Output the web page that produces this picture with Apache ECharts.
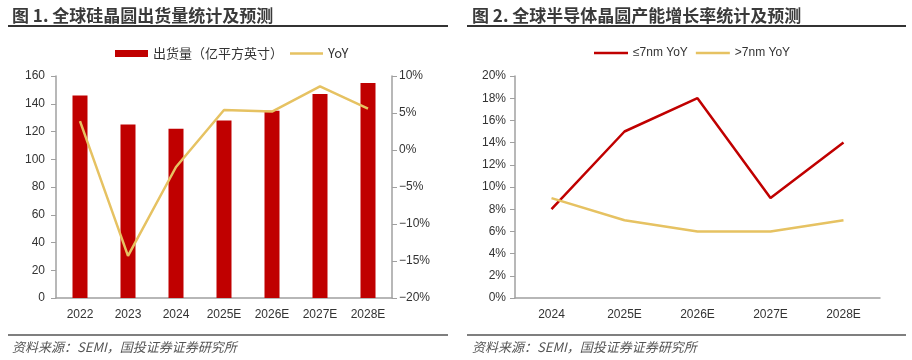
<!DOCTYPE html>
<html><head><meta charset="utf-8">
<script src="https://cdn.jsdelivr.net/npm/echarts@6/dist/echarts.min.js"></script>
<style>html,body{margin:0;padding:0;background:#fff}#c{width:912px;height:360px}</style>
</head><body><div id="c"></div>
<script>
const years1 = ['2022','2023','2024','2025E','2026E','2027E','2028E'];
const shipments = [146, 125, 122, 128, 135, 147, 155];
const shipYoY = [3.9, -14.3, -2.3, 5.4, 5.2, 8.6, 5.6];
const years2 = ['2024','2025E','2026E','2027E','2028E'];
const le7nm = [8, 15, 18, 9, 14];
const gt7nm = [9, 7, 6, 6, 7];
const title1 = '图 1. 全球硅晶圆出货量统计及预测';
const title2 = '图 2. 全球半导体晶圆产能增长率统计及预测';
const source = '资料来源：SEMI，国投证券证券研究所';

const RED = '#C00000', YEL = '#E6C262', AX = '#A0A0A0', TXT = '#333';
const FONT = '"Liberation Sans", Arial, "Noto Sans CJK SC", sans-serif';
const CJK = '"Noto Sans CJK SC", sans-serif';
const lab = {color: TXT, fontSize: 12, fontFamily: FONT};
const LINEICON = 'path://M0,0L34,0L34,2.5L0,2.5Z';

const chart = echarts.init(document.getElementById('c'), null, {renderer: 'canvas'});
chart.setOption({
  backgroundColor: '#fff',
  animation: false,
  title: [
    {text: title1, left: 7, top: 2, textStyle: {fontFamily: CJK, fontSize: 17, fontWeight: 'bold', color: '#3a3a3a'}},
    {text: title2, left: 467, top: 2, textStyle: {fontFamily: CJK, fontSize: 17, fontWeight: 'bold', color: '#3a3a3a'}},
    {text: source, left: 7, top: 336, textStyle: {fontFamily: CJK, fontSize: 13, fontWeight: 'normal', fontStyle: 'italic', color: '#555'}},
    {text: source, left: 467, top: 336, textStyle: {fontFamily: CJK, fontSize: 13, fontWeight: 'normal', fontStyle: 'italic', color: '#555'}}
  ],
  graphic: [
    {type: 'line', shape: {x1: 8, y1: 26, x2: 448, y2: 26}, style: {stroke: '#333', lineWidth: 2}},
    {type: 'line', shape: {x1: 467, y1: 26, x2: 906, y2: 26}, style: {stroke: '#333', lineWidth: 2}},
    {type: 'line', shape: {x1: 8, y1: 335, x2: 448, y2: 335}, style: {stroke: '#555', lineWidth: 1.5}},
    {type: 'line', shape: {x1: 467, y1: 335, x2: 906, y2: 335}, style: {stroke: '#555', lineWidth: 1.5}}
  ],
  legend: [
    {left: 110, top: 42, itemWidth: 33, itemHeight: 7, itemGap: 7,
     textStyle: {fontFamily: CJK, fontSize: 13, color: TXT},
     data: [{name: '出货量（亿平方英寸）', icon: 'rect'}, {name: 'YoY', icon: LINEICON}]},
    {left: 589, top: 42, itemWidth: 34, itemHeight: 7, itemGap: 8,
     textStyle: {fontFamily: FONT, fontSize: 12, color: TXT},
     data: [{name: '≤7nm YoY', icon: LINEICON}, {name: '>7nm YoY', icon: LINEICON}]}
  ],
  grid: [
    {left: 56, right: 520, top: 76, bottom: 62},
    {left: 515, right: 32, top: 76, bottom: 62}
  ],
  xAxis: [
    {type: 'category', gridIndex: 0, data: years1, axisTick: {show: false},
     axisLine: {lineStyle: {color: AX, width: 1.5}}, axisLabel: Object.assign({margin: 11}, lab)},
    {type: 'category', gridIndex: 1, data: years2, axisTick: {show: false},
     axisLine: {lineStyle: {color: AX, width: 1.5}}, axisLabel: Object.assign({margin: 11}, lab)}
  ],
  yAxis: [
    {type: 'value', gridIndex: 0, min: 0, max: 160, interval: 20, splitLine: {show: false},
     axisLine: {show: true, lineStyle: {color: AX, width: 1.5}},
     axisTick: {show: true, length: 5, lineStyle: {color: AX}},
     axisLabel: Object.assign({margin: 11}, lab)},
    {type: 'value', gridIndex: 0, position: 'right', min: -20, max: 10, interval: 5, splitLine: {show: false},
     axisLine: {show: true, lineStyle: {color: AX, width: 1.5}},
     axisTick: {show: true, length: 5, lineStyle: {color: AX}},
     axisLabel: Object.assign({margin: 7, formatter: v => (v < 0 ? '\u2212' + Math.abs(v) : v) + '%'}, lab)},
    {type: 'value', gridIndex: 1, min: 0, max: 20, interval: 2, splitLine: {show: false},
     axisLine: {show: true, lineStyle: {color: AX, width: 1.5}},
     axisTick: {show: true, length: 5, lineStyle: {color: AX}},
     axisLabel: Object.assign({margin: 9, formatter: '{value}%'}, lab)}
  ],
  series: [
    {name: '出货量（亿平方英寸）', type: 'bar', xAxisIndex: 0, yAxisIndex: 0, data: shipments,
     barWidth: 15, itemStyle: {color: RED}},
    {name: 'YoY', type: 'line', xAxisIndex: 0, yAxisIndex: 1, data: shipYoY, symbol: 'none',
     lineStyle: {color: YEL, width: 2.5}, itemStyle: {color: YEL}},
    {name: '≤7nm YoY', type: 'line', xAxisIndex: 1, yAxisIndex: 2, data: le7nm, symbol: 'none',
     lineStyle: {color: RED, width: 2.5}, itemStyle: {color: RED}},
    {name: '>7nm YoY', type: 'line', xAxisIndex: 1, yAxisIndex: 2, data: gt7nm, symbol: 'none',
     lineStyle: {color: YEL, width: 2.5}, itemStyle: {color: YEL}}
  ]
});
</script></body></html>
